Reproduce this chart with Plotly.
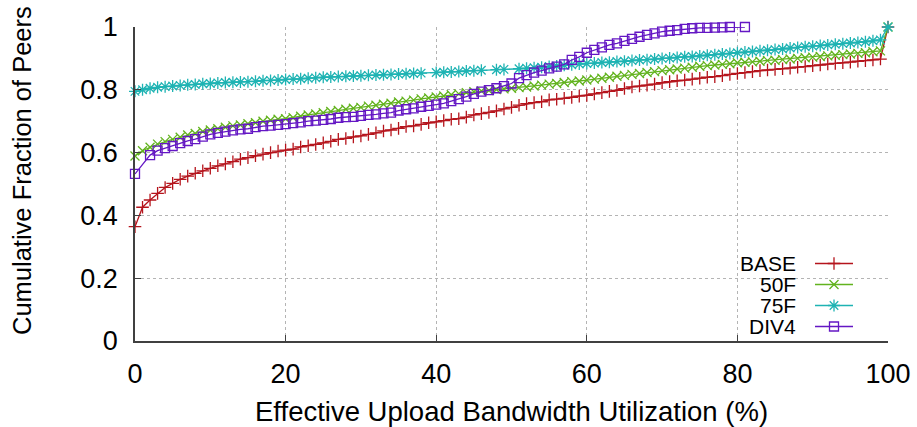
import plotly.graph_objects as go

# Effective upload bandwidth utilization (%) vs cumulative fraction of peers
base_x = list(range(0, 101))
base_y = [
    0.364, 0.426, 0.449, 0.470, 0.489, 0.502, 0.515, 0.525, 0.534, 0.542,
    0.550, 0.558, 0.564, 0.571, 0.579, 0.584, 0.590, 0.595, 0.600, 0.605,
    0.608, 0.611, 0.618, 0.622, 0.626, 0.631, 0.636, 0.642, 0.645, 0.650,
    0.653, 0.658, 0.663, 0.669, 0.672, 0.677, 0.683, 0.685, 0.690, 0.695,
    0.698, 0.702, 0.706, 0.708, 0.713, 0.720, 0.724, 0.728, 0.733, 0.739,
    0.744, 0.751, 0.756, 0.759, 0.762, 0.768, 0.770, 0.773, 0.776, 0.780,
    0.782, 0.787, 0.791, 0.795, 0.798, 0.804, 0.809, 0.812, 0.815, 0.818,
    0.823, 0.826, 0.829, 0.831, 0.834, 0.837, 0.840, 0.842, 0.845, 0.849,
    0.852, 0.855, 0.858, 0.861, 0.863, 0.865, 0.867, 0.869, 0.872, 0.874,
    0.877, 0.879, 0.882, 0.884, 0.886, 0.888, 0.891, 0.893, 0.895, 0.898,
    1.000,
]

f50_x = list(range(0, 101))
f50_y = [
    0.589, 0.606, 0.617, 0.627, 0.635, 0.642, 0.649, 0.656, 0.661, 0.667,
    0.672, 0.676, 0.681, 0.685, 0.688, 0.692, 0.695, 0.700, 0.703, 0.706,
    0.708, 0.711, 0.716, 0.720, 0.723, 0.727, 0.731, 0.734, 0.738, 0.741,
    0.744, 0.748, 0.751, 0.754, 0.757, 0.761, 0.764, 0.767, 0.771, 0.774,
    0.777, 0.780, 0.784, 0.787, 0.791, 0.794, 0.796, 0.798, 0.801, 0.803,
    0.805, 0.807, 0.809, 0.812, 0.815, 0.818, 0.820, 0.823, 0.826, 0.828,
    0.831, 0.834, 0.837, 0.840, 0.843, 0.846, 0.849, 0.852, 0.855, 0.858,
    0.861, 0.864, 0.866, 0.869, 0.872, 0.875, 0.877, 0.879, 0.881, 0.883,
    0.886, 0.888, 0.889, 0.891, 0.893, 0.894, 0.896, 0.898, 0.900, 0.902,
    0.904, 0.906, 0.908, 0.910, 0.912, 0.914, 0.916, 0.918, 0.921, 0.924,
    1.000,
]

f75_x = (list(range(0, 39)) + list(range(40, 47)) + [48, 49]
         + list(range(51, 101)))
f75_y = [
    0.795, 0.800, 0.805, 0.808, 0.810, 0.812, 0.814, 0.816, 0.817, 0.819,
    0.820, 0.822, 0.823, 0.824, 0.825, 0.826, 0.827, 0.829, 0.830, 0.831,
    0.833, 0.834, 0.835, 0.837, 0.838, 0.840, 0.841, 0.842, 0.843, 0.844,
    0.845, 0.846, 0.847, 0.848, 0.849, 0.850, 0.851, 0.852, 0.853,
    0.855, 0.856, 0.857, 0.858, 0.860, 0.861, 0.862,
    0.864, 0.865,
    0.867, 0.869, 0.870, 0.872, 0.874, 0.876, 0.878, 0.880, 0.882,
    0.884, 0.885, 0.887, 0.888, 0.890, 0.891, 0.893, 0.895, 0.896, 0.898,
    0.900, 0.901, 0.903, 0.905, 0.906, 0.908, 0.910, 0.912, 0.914, 0.916,
    0.918, 0.920, 0.922, 0.924, 0.926, 0.928, 0.930, 0.933, 0.935, 0.937,
    0.939, 0.941, 0.943, 0.945, 0.947, 0.949, 0.951, 0.953, 0.956, 0.959,
    1.000,
]

div4_x = [0] + list(range(2, 80)) + [81]
div4_y = [
    0.532, 0.592, 0.606, 0.614, 0.621, 0.630, 0.637, 0.643, 0.651,
    0.658, 0.663, 0.667, 0.671, 0.674, 0.676, 0.681, 0.684, 0.686, 0.688,
    0.691, 0.694, 0.696, 0.700, 0.702, 0.704, 0.707, 0.711, 0.713, 0.714,
    0.717, 0.720, 0.722, 0.725, 0.727, 0.734, 0.738, 0.741, 0.746, 0.749,
    0.753, 0.757, 0.764, 0.770, 0.778, 0.787, 0.794, 0.799, 0.805, 0.812,
    0.820, 0.837, 0.847, 0.855, 0.861, 0.868, 0.874, 0.881, 0.895, 0.905,
    0.918, 0.927, 0.935, 0.943, 0.948, 0.956, 0.962, 0.969, 0.975, 0.980,
    0.985, 0.988, 0.990, 0.994, 0.996, 0.997, 0.997, 0.998, 0.999, 1.000,
    1.000,
]

series_names = ["BASE", "50F", "75F", "DIV4"]
series_x = [base_x, f50_x, f75_x, div4_x]
series_y = [base_y, f50_y, f75_y, div4_y]
colors = ["#b5141c", "#62b31e", "#1eb3b3", "#6417c4"]
symbols = ["cross-thin-open", "x-thin-open", "asterisk-open", "square-open"]
sizes = [9, 9, 10, 9]

x_ticks = [0, 20, 40, 60, 80, 100]
y_ticks = [0, 0.2, 0.4, 0.6, 0.8, 1]
y_tick_text = ["0", "0.2", "0.4", "0.6", "0.8", "1"]

FONT = "Liberation Sans, Arial, Helvetica, sans-serif"

# figure geometry (pixels)
W, H = 917, 427
ML, MR, MT, MB = 135, 29, 27, 86
PW, PH = W - ML - MR, H - MT - MB

fig = go.Figure()

for name, xs, ys, c, sym, sz in zip(series_names, series_x, series_y,
                                    colors, symbols, sizes):
    fig.add_trace(go.Scatter(
        x=xs, y=ys, mode="lines+markers", name=name, showlegend=False,
        line=dict(color=c, width=1.3),
        marker=dict(symbol=sym, size=sz, color=c, line=dict(color=c, width=1.3)),
        cliponaxis=False,
    ))

# key box in the lower right: label text on the left, line sample on the right
key_rows_px = [263.5, 284.5, 305.5, 326.5]
key_x0_px, key_x1_px, key_text_px = 815, 853, 798


def px_to_paper_x(px):
    return (px - ML) / PW


def px_to_paper_y(py):
    return (MT + PH - py) / PH


for name, c, sym, sz, ry in zip(series_names, colors, symbols, sizes, key_rows_px):
    yp = px_to_paper_y(ry)
    x0, x1 = px_to_paper_x(key_x0_px), px_to_paper_x(key_x1_px)
    fig.add_trace(go.Scatter(
        x=[x0, x1], y=[yp, yp], mode="lines", showlegend=False,
        line=dict(color=c, width=1.3), xaxis="x2", yaxis="y2",
        hoverinfo="skip",
    ))
    fig.add_trace(go.Scatter(
        x=[(x0 + x1) / 2], y=[yp], mode="markers", showlegend=False,
        marker=dict(symbol=sym, size=sz, color=c, line=dict(color=c, width=1.3)),
        xaxis="x2", yaxis="y2", hoverinfo="skip", cliponaxis=False,
    ))
    fig.add_annotation(
        x=px_to_paper_x(key_text_px), y=yp, xref="paper", yref="paper",
        text=name, showarrow=False, xanchor="right", yanchor="middle",
        font=dict(family=FONT, size=21, color="black"),
    )

# axis titles
fig.add_annotation(
    x=px_to_paper_x(22), y=px_to_paper_y(171), xref="paper", yref="paper",
    text="Cumulative Fraction of Peers", textangle=-90, showarrow=False,
    xanchor="center", yanchor="middle",
    font=dict(family=FONT, size=25.5, color="black"),
)
fig.add_annotation(
    x=0.5, y=px_to_paper_y(411), xref="paper", yref="paper",
    text="Effective Upload Bandwidth Utilization (%)", showarrow=False,
    xanchor="center", yanchor="middle",
    font=dict(family=FONT, size=27.5, color="black"),
)

axis_common = dict(
    showgrid=True, gridcolor="#b4b4b4", griddash="dot", gridwidth=1,
    zeroline=False, showline=True, linecolor="#404040", linewidth=1.5,
    mirror=False, ticks="inside", ticklen=6, tickwidth=1, tickcolor="#404040",
    tickfont=dict(family=FONT, size=27, color="black"), automargin=False,
)

fig.update_layout(
    width=W, height=H,
    margin=dict(l=ML, r=MR, t=MT, b=MB, pad=0, autoexpand=False),
    paper_bgcolor="white", plot_bgcolor="white",
    showlegend=False,
    xaxis=dict(range=[0, 100], tickvals=x_ticks, ticklabelstandoff=8,
               **axis_common),
    yaxis=dict(range=[0, 1], tickvals=y_ticks, ticktext=y_tick_text,
               ticklabelstandoff=10, **axis_common),
    xaxis2=dict(range=[0, 1], domain=[0, 1], overlaying="x", visible=False,
                fixedrange=True),
    yaxis2=dict(range=[0, 1], domain=[0, 1], overlaying="y", visible=False,
                fixedrange=True, anchor="x2"),
)

fig.write_html("out.html")
